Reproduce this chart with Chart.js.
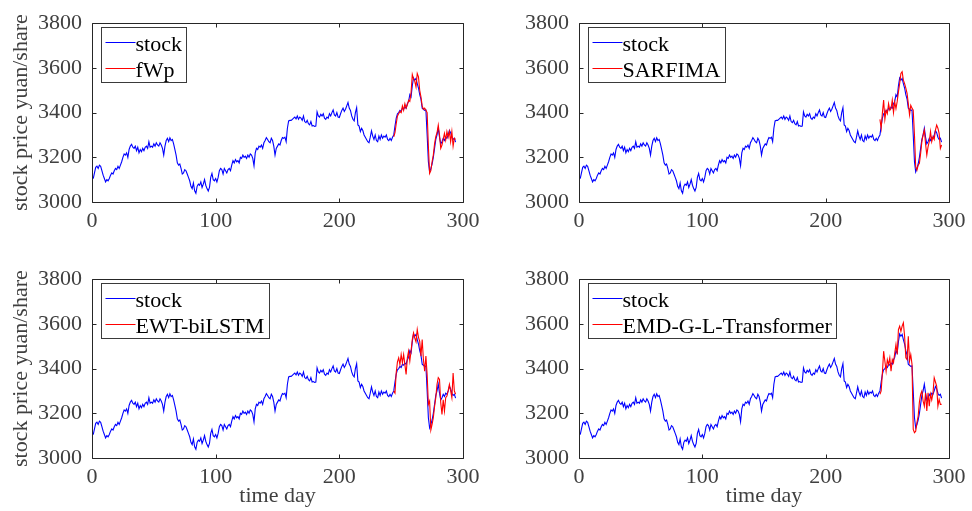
<!DOCTYPE html>
<html>
<head>
<meta charset="utf-8">
<title>stock forecasts</title>
<script src="https://cdn.jsdelivr.net/npm/chart.js@4.4.1/dist/chart.umd.min.js"></script>
<style>
  html, body { margin: 0; padding: 0; background: #fff; overflow: hidden; }
  #wrap { position: relative; width: 972px; height: 511px; }
  .cell { position: absolute; }
</style>
</head>
<body>
<div id="wrap">
  <div class="cell" style="left:0;top:0;width:486px;height:256px"><canvas id="c1"></canvas></div>
  <div class="cell" style="left:487px;top:0;width:485px;height:256px"><canvas id="c2"></canvas></div>
  <div class="cell" style="left:0;top:256px;width:486px;height:255px"><canvas id="c3"></canvas></div>
  <div class="cell" style="left:487px;top:256px;width:485px;height:255px"><canvas id="c4"></canvas></div>
</div>
<script>
// observed closing price, day 1..294
const stock = [
  3105, 3130, 3155, 3160, 3150, 3165, 3160, 3140, 3120, 3105,
  3090, 3100, 3095, 3105, 3120, 3130, 3125, 3140, 3150, 3145,
  3160, 3150, 3165, 3180, 3200, 3215, 3210, 3220, 3200, 3235,
  3250, 3258, 3245, 3240, 3250, 3230, 3245, 3220, 3235, 3225,
  3240, 3230, 3245, 3250, 3240, 3270, 3245, 3250, 3245, 3260,
  3250, 3265, 3255, 3250, 3265, 3255, 3240, 3210, 3250, 3275,
  3285, 3270, 3287, 3275, 3280, 3260, 3235, 3210, 3175, 3165,
  3170, 3150, 3125, 3130, 3145, 3140, 3125, 3110, 3095, 3070,
  3060, 3085, 3050, 3039, 3070, 3080, 3075, 3090, 3065, 3080,
  3100, 3075, 3060, 3049, 3065, 3110, 3128, 3100, 3095, 3105,
  3090, 3110, 3140, 3150, 3145, 3125, 3150, 3140, 3130, 3145,
  3150, 3140, 3165, 3185, 3175, 3190, 3180, 3185, 3175, 3200,
  3195, 3210, 3200, 3205, 3195, 3210, 3200, 3215, 3210, 3195,
  3162, 3220, 3240, 3235, 3250, 3245, 3255, 3240, 3265, 3275,
  3288, 3280, 3270, 3265, 3285, 3275, 3250, 3210, 3240, 3250,
  3260, 3255, 3275, 3288, 3285, 3290, 3270, 3330, 3363, 3365,
  3365, 3370, 3375, 3380, 3372, 3385, 3370, 3380, 3375, 3365,
  3385, 3360, 3355, 3365, 3350, 3345, 3360, 3340, 3342, 3338,
  3340, 3403, 3385, 3380, 3392, 3385, 3395, 3375, 3370, 3380,
  3375, 3395, 3385, 3400, 3412, 3390, 3385, 3400, 3380, 3378,
  3395, 3410, 3420, 3405, 3415, 3430, 3445, 3420, 3410, 3385,
  3370, 3363, 3400, 3422, 3345, 3340, 3315, 3330, 3320, 3300,
  3290, 3280, 3270, 3265, 3290, 3318, 3295, 3280, 3300, 3275,
  3270, 3295, 3280, 3300, 3285, 3295, 3290, 3300, 3280, 3275,
  3285, 3275, 3290, 3300, 3340, 3375, 3395, 3400, 3410, 3405,
  3420, 3415, 3425, 3420, 3440, 3450, 3480, 3470, 3520, 3555,
  3545, 3553, 3530, 3510, 3480, 3460, 3420, 3415, 3410, 3412,
  3300, 3180, 3135, 3150, 3170, 3200, 3240, 3280, 3300, 3330,
  3290, 3260, 3270, 3285, 3275, 3290, 3285, 3300, 3320, 3310,
  3290, 3280, 3285, 3268
];

// forecasts start at day 244
const forecastStart = 244;

const fWp = [
  3292, 3310, 3350, 3385, 3395, 3405, 3400, 3430, 3410, 3440,
  3420, 3435, 3455, 3450, 3490, 3570, 3550, 3540, 3515, 3575,
  3560, 3500, 3470, 3430, 3415, 3420, 3410, 3400, 3250, 3128,
  3140, 3180, 3210, 3260, 3292, 3310, 3344, 3300, 3240, 3255,
  3280, 3307, 3277, 3315, 3290, 3315, 3270, 3315, 3250, 3285,
  3280
];

const sarfima = [
  3370, 3330, 3400, 3456, 3370, 3410, 3395, 3440, 3410, 3418,
  3456, 3400, 3448, 3418, 3450, 3493, 3530, 3575, 3583, 3545,
  3530, 3510, 3486, 3440, 3390, 3433, 3420, 3411, 3300, 3158,
  3143, 3165, 3173, 3217, 3270, 3300, 3322, 3260, 3210, 3247,
  3270, 3315, 3270, 3292, 3280, 3322, 3344, 3330, 3307, 3240,
  3255
];

const ewtBiLstm = [
  3300, 3290, 3382, 3430, 3448, 3418, 3463, 3426, 3463, 3418,
  3374, 3448, 3478, 3433, 3480, 3530, 3560, 3537, 3520, 3575,
  3540, 3522, 3456, 3530, 3440, 3388, 3456, 3374, 3240, 3255,
  3125, 3150, 3180, 3230, 3270, 3330, 3360, 3352, 3247, 3195,
  3260, 3210, 3270, 3277, 3300, 3329, 3300, 3270, 3380, 3300,
  3285
];

const emdTransformer = [
  3285, 3300, 3381, 3478, 3433, 3388, 3440, 3418, 3448, 3388,
  3440, 3426, 3470, 3508, 3463, 3575, 3590, 3567, 3590, 3605,
  3545, 3448, 3440, 3545, 3433, 3463, 3420, 3128, 3113, 3120,
  3158, 3188, 3250, 3285, 3300, 3255, 3232, 3292, 3210, 3292,
  3232, 3285, 3260, 3290, 3359, 3340, 3322, 3232, 3262, 3240,
  3240
];

const xTicks = [0, 100, 200, 300];
const yTicks = [3000, 3200, 3400, 3600, 3800];

const FONT = 'Liberation Serif, Times New Roman, serif';

function toPoints(values, firstDay) {
  return values.map((v, i) => ({ x: firstDay + i, y: v }));
}

// box around the axes, inward ticks on all four sides, and the legend
const matlabAxes = {
  id: 'matlabAxes',
  afterDraw(chart) {
    const { ctx, chartArea: a, scales } = chart;
    ctx.save();
    ctx.strokeStyle = '#262626';
    ctx.lineWidth = 1;
    ctx.beginPath();
    const L = Math.round(a.left) + 0.5, R = Math.round(a.right) + 0.5;
    const T = Math.round(a.top) + 0.5, B = Math.round(a.bottom) + 0.5;
    ctx.rect(L, T, R - L, B - T);
    xTicks.forEach(v => {
      const px = Math.round(scales.x.getPixelForValue(v)) + 0.5;
      ctx.moveTo(px, B); ctx.lineTo(px, B - 4);
      ctx.moveTo(px, T); ctx.lineTo(px, T + 4);
    });
    yTicks.forEach(v => {
      const py = Math.round(scales.y.getPixelForValue(v)) + 0.5;
      ctx.moveTo(L, py); ctx.lineTo(L + 4, py);
      ctx.moveTo(R, py); ctx.lineTo(R - 4, py);
    });
    ctx.stroke();

    // legend in the upper left corner
    const sets = chart.data.datasets;
    ctx.font = '22px ' + FONT;
    const textW = Math.max(...sets.map(d => ctx.measureText(d.label).width));
    const bx = Math.round(a.left) + 9.5, by = Math.round(a.top) + 4.5;
    const bw = Math.round(34 + textW + 5), bh = 55;
    ctx.fillStyle = '#fff';
    ctx.fillRect(bx, by, bw, bh);
    ctx.strokeStyle = '#3a3a3a';
    ctx.strokeRect(bx, by, bw, bh);
    sets.forEach((d, i) => {
      const rowY = by + 15 + i * 26;
      ctx.strokeStyle = d.borderColor;
      ctx.lineWidth = 1;
      ctx.beginPath();
      ctx.moveTo(bx + 4, rowY);
      ctx.lineTo(bx + 34, rowY);
      ctx.stroke();
      ctx.fillStyle = '#000';
      ctx.textBaseline = 'alphabetic';
      ctx.fillText(d.label, bx + 34, rowY + 8);
    });
    ctx.restore();
  }
};

function makeChart(id, label, forecast, opts) {
  const canvas = document.getElementById(id);
  return new Chart(canvas, {
    type: 'line',
    data: {
      datasets: [
        {
          label: 'stock',
          data: toPoints(stock, 1),
          borderColor: '#0000ff',
          borderWidth: 1.1,
          pointRadius: 0,
          tension: 0,
          order: 2
        },
        {
          label: label,
          data: toPoints(forecast, forecastStart),
          borderColor: '#ff0000',
          borderWidth: 1.1,
          pointRadius: 0,
          tension: 0,
          order: 1
        }
      ]
    },
    options: {
      responsive: true,
      maintainAspectRatio: false,
      animation: false,
      events: [],
      layout: { padding: { left: 0, top: 23, right: 23, bottom: 0 } },
      plugins: { legend: { display: false }, tooltip: { enabled: false } },
      scales: {
        x: {
          type: 'linear',
          min: 0,
          max: 300,
          afterBuildTicks: s => { s.ticks = xTicks.map(v => ({ value: v })); },
          afterFit: s => { s.height = opts.xHeight; },
          grid: { display: false, drawTicks: false },
          border: { display: false },
          ticks: {
            padding: 6, color: '#404040', font: { family: FONT, size: 22 }, maxRotation: 0,
            callback: v => String(v)
          },
          title: {
            display: opts.xTitle,
            text: 'time day',
            color: '#404040',
            font: { family: FONT, size: 22 },
            padding: { top: 0, bottom: 2 }
          }
        },
        y: {
          min: 3000,
          max: 3800,
          afterBuildTicks: s => { s.ticks = yTicks.map(v => ({ value: v })); },
          afterFit: s => { s.width = 92; },
          grid: { display: false, drawTicks: false },
          border: { display: false },
          ticks: {
            padding: 10, color: '#404040', font: { family: FONT, size: 22 },
            callback: v => String(v)
          },
          title: {
            display: opts.yTitle,
            text: 'stock price yuan/share',
            color: '#404040',
            font: { family: FONT, size: 22 },
            padding: { top: 8, bottom: 0 }
          }
        }
      }
    },
    plugins: [matlabAxes]
  });
}

makeChart('c1', 'fWp', fWp, { xHeight: 54, xTitle: false, yTitle: true });
makeChart('c2', 'SARFIMA', sarfima, { xHeight: 54, xTitle: false, yTitle: false });
makeChart('c3', 'EWT-biLSTM', ewtBiLstm, { xHeight: 53, xTitle: true, yTitle: true });
makeChart('c4', 'EMD-G-L-Transformer', emdTransformer, { xHeight: 53, xTitle: true, yTitle: false });
</script>
</body>
</html>
